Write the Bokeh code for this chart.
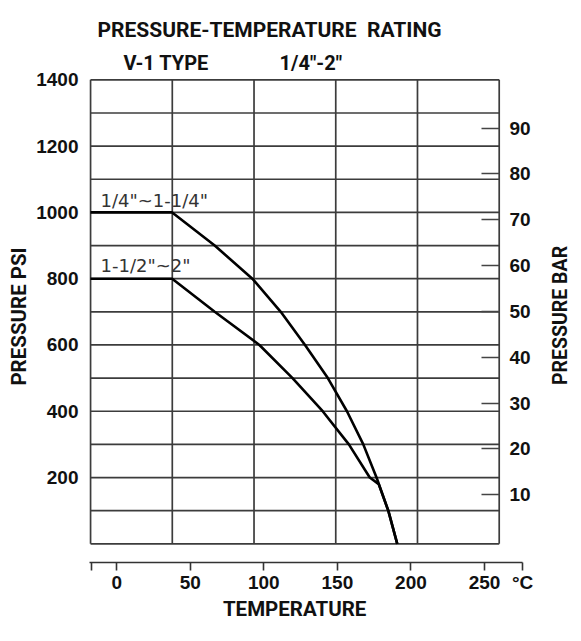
import math
from bokeh.plotting import figure
from bokeh.models import Range1d, LinearAxis, FixedTicker, Label
from bokeh.embed import file_html
from bokeh.resources import INLINE

# ---- data ----
# 1/4" ~ 1-1/4" valves
temp_small = [-17.8, 37.7, 66.6, 92.2, 111.5, 128.0, 143.5, 156.5, 167.6, 176.6, 184.6, 190.7]
psi_small = [1000, 1000, 900, 800, 700, 600, 500, 400, 300, 200, 100, 0]
# 1-1/2" ~ 2" valves
temp_large = [-17.8, 37.7, 66.6, 97.0, 119.5, 140.0, 157.8, 172.0, 178.1, 184.6, 190.7]
psi_large = [800, 800, 700, 600, 500, 400, 300, 200, 180, 100, 0]

psi_ticks = [200, 400, 600, 800, 1000, 1200, 1400]
bar_ticks = [10, 20, 30, 40, 50, 60, 70, 80, 90]
temp_ticks = [0, 50, 100, 150, 200, 250]
psi_grid = [0, 100, 200, 300, 400, 500, 600, 700, 800, 900, 1000, 1100, 1200, 1300, 1400]
fahrenheit_grid = [0, 100, 200, 300, 400, 500]

label_small = '1/4"~1-1/4"'
label_large = '1-1/2"~2"'
unit_label = "°C"

COND = "Roboto"
SANS = "Liberation Sans"
INK = "#111111"
GRID = "#3c3c3c"

celsius_grid = [(f - 32) * 5.0 / 9.0 for f in fahrenheit_grid]
t_min, t_max = celsius_grid[0], celsius_grid[-1]
p_min, p_max = psi_grid[0], psi_grid[-1]

# The plotting frame covers the whole canvas width and the top margin, so that the
# titles and rotated axis names can sit in it as labels.
p = figure(width=573, height=625, output_backend="svg", toolbar_location=None, title=None,
           x_range=Range1d(-79.0, 310.5), y_range=Range1d(-56.4, 1639.4),
           min_border_left=0, min_border_right=0, min_border_top=0, min_border_bottom=63,
           background_fill_color="white", border_fill_color="white")
p.outline_line_color = None
p.xgrid.visible = False
p.ygrid.visible = False

# grid (box) lines: every 100 psi, and every 100 F on the temperature scale
p.segment(x0=[t_min] * len(psi_grid), y0=psi_grid, x1=[t_max] * len(psi_grid), y1=psi_grid,
          line_color=GRID, line_width=1.7)
p.segment(x0=celsius_grid, y0=[p_min] * len(celsius_grid), x1=celsius_grid, y1=[p_max] * len(celsius_grid),
          line_color=GRID, line_width=1.7)

# rating curves
p.line(temp_small, psi_small, line_color="black", line_width=2.6, line_join="round")
p.line(temp_large, psi_large, line_color="black", line_width=2.6, line_join="round")

# curve labels
p.add_layout(Label(x=-11.0, y=1037.4, text=label_small, text_font="DejaVu Sans",
                   text_font_size="18px", text_color="#333333", text_baseline="middle"))
p.add_layout(Label(x=-11.0, y=839.8, text=label_large, text_font="DejaVu Sans",
                   text_font_size="18px", text_color="#333333", text_baseline="middle"))

# titles
p.add_layout(Label(x=-13.06, y=1550.4, text="PRESSURE-TEMPERATURE\u00a0 RATING", text_font=COND,
                   text_font_size="21px", text_font_style="bold", text_color=INK, text_baseline="middle"))
p.add_layout(Label(x=4.6, y=1452.3, text="V-1 TYPE", text_font=COND,
                   text_font_size="20px", text_font_style="bold", text_color=INK, text_baseline="middle"))
p.add_layout(Label(x=110.7, y=1452.3, text='1/4"-2"', text_font=COND,
                   text_font_size="20px", text_font_style="bold", text_color=INK, text_baseline="middle"))

# rotated axis names
p.add_layout(Label(x=-66.1, y=685.9, text="PRESSURE PSI", angle=math.pi / 2, text_font=COND,
                   text_font_size="20.5px", text_font_style="bold", text_color=INK,
                   text_align="center", text_baseline="middle"))
p.add_layout(Label(x=301.5, y=688.9, text="PRESSURE BAR", angle=math.pi / 2, text_font=COND,
                   text_font_size="19.5px", text_font_style="bold", text_color=INK,
                   text_align="center", text_baseline="middle"))

# left axis (PSI) - labels pulled in to sit left of the chart box
ya = p.yaxis[0]
ya.ticker = FixedTicker(ticks=psi_ticks)
ya.axis_line_color = None
ya.major_tick_line_color = None
ya.minor_tick_line_color = None
ya.major_tick_out = 0
ya.major_tick_in = 0
ya.major_label_standoff = -78
ya.major_label_text_font = SANS
ya.major_label_text_font_size = "19px"
ya.major_label_text_font_style = "bold"
ya.major_label_text_color = INK

# right axis (BAR) - ticks inside the chart box, labels just right of it
p.extra_y_ranges = {"bar": Range1d(-4.78, 117.84)}
ra = LinearAxis(y_range_name="bar", ticker=FixedTicker(ticks=bar_ticks))
ra.axis_line_color = None
ra.major_tick_line_color = "#444444"
ra.major_tick_line_width = 1.6
ra.minor_tick_line_color = None
ra.major_tick_out = -74
ra.major_tick_in = 92
ra.major_label_standoff = -64
ra.major_label_text_font = SANS
ra.major_label_text_font_size = "19px"
ra.major_label_text_font_style = "bold"
ra.major_label_text_color = INK
p.add_layout(ra, "right")

# bottom axis (temperature); its line runs from the box's left edge to the unit label
xa = p.xaxis[0]
xa.bounds = (-18.5, 276.0)
xa.ticker = FixedTicker(ticks=[-17.0] + temp_ticks + [275.9])
xa.major_label_overrides = {-17.0: "", 275.9: unit_label}
xa.axis_line_color = "#333333"
xa.axis_line_width = 1.6
xa.major_tick_line_color = "#333333"
xa.major_tick_line_width = 1.6
xa.major_tick_out = 8
xa.major_tick_in = 0
xa.minor_tick_line_color = None
xa.major_label_standoff = 1
xa.major_label_text_font = SANS
xa.major_label_text_font_size = "19px"
xa.major_label_text_font_style = "bold"
xa.major_label_text_color = INK
xa.axis_label = "\u00a0\u00a0\u00a0TEMPERATURE"
xa.axis_label_standoff = 1
xa.axis_label_text_font = COND
xa.axis_label_text_font_size = "20.5px"
xa.axis_label_text_font_style = "bold"
xa.axis_label_text_color = INK

open("out.html", "w").write(file_html(p, INLINE))
